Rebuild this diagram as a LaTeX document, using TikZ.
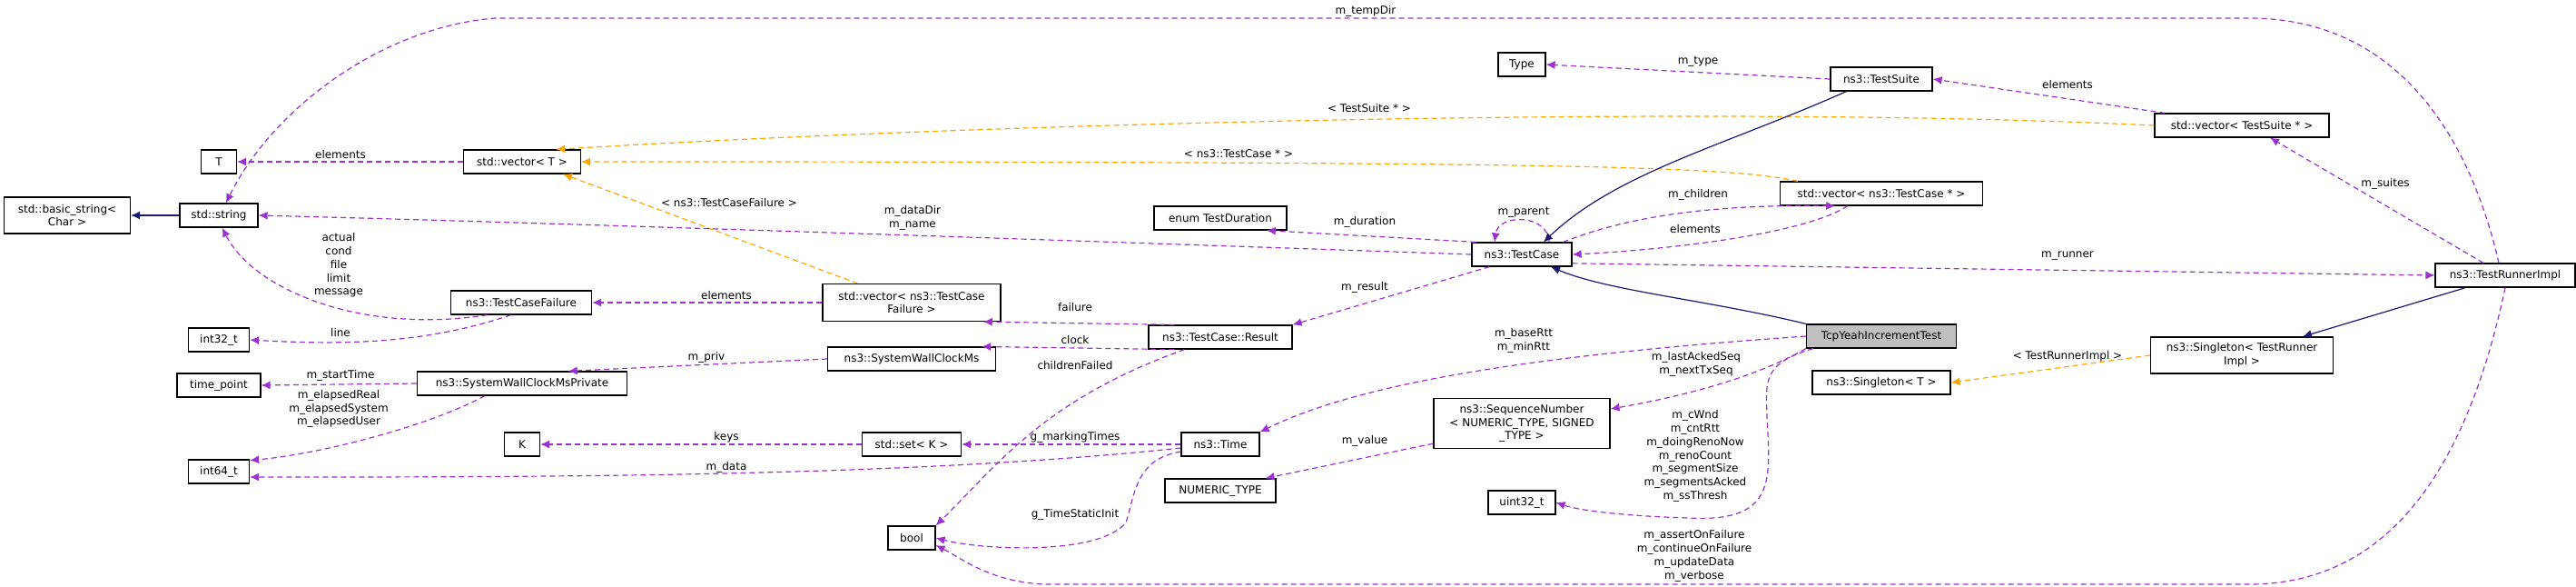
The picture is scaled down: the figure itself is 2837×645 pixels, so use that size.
\documentclass[tikz,border=0pt]{standalone}
\usepackage{fontspec}
\setmainfont{DejaVu Sans}
\usetikzlibrary{arrows.meta,calc}
\definecolor{ep}{HTML}{9A32CD}
\definecolor{eo}{HTML}{FFA500}
\definecolor{en}{HTML}{191970}
\begin{document}
\begin{tikzpicture}[x=0.5pt,y=-0.5pt,
  every node/.style={font=\fontsize{6}{7.4}\selectfont},
  box/.style={draw=black,line width=0.6pt,fill=white,inner sep=1pt,minimum height=13pt,align=center},
  lab/.style={inner sep=0pt,align=center},
  mem/.style={draw=ep,line width=0.6pt,dash pattern=on 3pt off 2pt,-{Latex[length=5pt,width=4.5pt]}},
  tpl/.style={draw=eo,line width=0.6pt,dash pattern=on 3pt off 2pt,-{Latex[length=5pt,width=4.5pt]}},
  inh/.style={draw=en,line width=0.6pt,-{Latex[length=5pt,width=4.5pt]}}]
\useasboundingbox (0,0) rectangle (2837,645);
% nodes
\node[box,minimum width=69.5pt,minimum height=20pt] (bstr) at (74,237) {std::basic\_string<\\Char >};
\node[box,minimum width=43pt] (str) at (241,237) {std::string};
\node[box,minimum width=19.5pt] (T) at (241,178) {T};
\node[box,minimum width=64.5pt] (vT) at (575,178) {std::vector< T >};
\node[box,minimum width=77.5pt] (tcf) at (574,333) {ns3::TestCaseFailure};
\node[box,minimum width=33.5pt] (i32) at (241,374) {int32\_t};
\node[box,minimum width=46pt] (tp) at (241,424) {time\_point};
\node[box,minimum width=115.5pt] (swp) at (575,422) {ns3::SystemWallClockMsPrivate};
\node[box,minimum width=19.5pt] (K) at (575,489) {K};
\node[box,minimum width=33.5pt] (i64) at (241,519) {int64\_t};
\node[box,minimum width=26pt] (type) at (1676,71) {Type};
\node[box,minimum width=73pt] (enum) at (1344,240) {enum TestDuration};
\node[box,minimum width=55pt] (tc) at (1676,280) {ns3::TestCase};
\node[box,minimum width=98pt,minimum height=20.5pt] (vtcf) at (1004,333) {std::vector< ns3::TestCase\\Failure >};
\node[box,minimum width=79pt] (res) at (1344,371) {ns3::TestCase::Result};
\node[box,minimum width=92.5pt] (swc) at (1004,395) {ns3::SystemWallClockMs};
\node[box,minimum width=97pt,minimum height=27.5pt] (sn) at (1676,466) {ns3::SequenceNumber\\< NUMERIC\_TYPE, SIGNED\\\_TYPE >};
\node[box,minimum width=54.5pt] (set) at (1004,489) {std::set< K >};
\node[box,minimum width=43pt] (time) at (1344,489) {ns3::Time};
\node[box,minimum width=61pt] (num) at (1344,540) {NUMERIC\_TYPE};
\node[box,minimum width=37pt] (u32) at (1676,553) {uint32\_t};
\node[box,minimum width=26pt] (bool) at (1004,592) {bool};
\node[box,minimum width=56pt] (ts) at (2072,87) {ns3::TestSuite};
\node[box,minimum width=96pt] (vts) at (2469,138) {std::vector< TestSuite * >};
\node[box,minimum width=111.5pt] (vtc) at (2072,213) {std::vector< ns3::TestCase * >};
\node[box,minimum width=77pt] (tri) at (2759,303) {ns3::TestRunnerImpl};
\node[box,minimum width=82.5pt,fill={rgb,255:red,191;green,191;blue,191}] (ty) at (2072,370) {TcpYeahIncrementTest};
\node[box,minimum width=100.5pt,minimum height=20pt] (stri) at (2469,391) {ns3::Singleton< TestRunner\\Impl >};
\node[box,minimum width=76pt] (st) at (2072,421) {ns3::Singleton< T >};
% edges
\draw[inh] (str) -- (bstr);
\draw[mem] (vT) -- (T);
\draw[mem] (tcf.200) .. controls (400,368) and (280,320) .. (str.285);
\draw[mem] (tcf.230) .. controls (470,378) and (380,380) .. (i32.east);
\draw[mem] (vtcf.west |- tcf.east) -- (tcf.east);
\draw[tpl] ($(vtcf.north west)+(39,0)$) -- ($(vT.south east)+(-20,0)$);
\draw[tpl] (vts.west) .. controls (1900,115) and (1100,135) .. (vT.20);
\draw[tpl] ($(vtc.north west)+(20,0)$) .. controls (1900,182) and (1700,178) .. (vT.east);
\draw[mem] (tc.west) .. controls (1100,262) and (600,245) .. (str.east);
\draw[mem] ($(tri.north)+(-7,0)$) .. controls (2720,150) and (2640,20) .. (2477,20) -- (545,20) .. controls (420,30) and (300,120) .. (str.60);
\draw[mem] (swp.west) -- (tp.east);
\draw[mem] ($(swp.south west)+(75,0)$) .. controls (470,470) and (350,500) .. (i64.20);
\draw[mem] (swc.west) -- (swp.15);
\draw[mem] (set.west) -- (K.east);
\draw[mem] ($(time.west)+(0,4)$) .. controls (1000,525) and (600,525) .. (i64.-10);
\draw[mem] (time.west) -- (set.east);
\draw[mem] ($(time.west)+(0,8)$) .. controls (1250,505) and (1250,545) .. (1240,575) .. controls (1210,612) and (1080,605) .. (bool.east);
\draw[mem] ($(res.south west)+(40,0)$) .. controls (1150,440) and (1100,510) .. (bool.north east);
\draw[mem] (res.165) -- (vtcf.-15);
\draw[mem] (res.195) -- (swc.10);
\draw[mem] ($(tc.south west)+(20,0)$) -- (res.north east);
\draw[mem] (tc.165) -- (enum.-15);
\draw[mem] ($(tc.north)+(30,0)$) .. controls (1705,235) and (1650,235) .. ($(tc.north)+(-30,0)$);
\draw[mem] ($(tc.north east)+(-10,0)$) .. controls (1800,235) and (1900,225) .. (vtc.-165);
\draw[mem] ($(vtc.south west)+(75,0)$) .. controls (1980,262) and (1800,277) .. (tc.east);
\draw[mem] (tc.-10) -- (tri.west);
\draw[inh] ($(ts.south west)+(18,0)$) .. controls (1900,160) and (1780,190) .. ($(tc.north)+(24,0)$);
\draw[inh] (ty.north west) .. controls (1880,330) and (1770,320) .. ($(tc.south)+(32,0)$);
\draw[mem] (ts.west) -- (type.east);
\draw[mem] ($(vts.north west)+(12,0)$) -- (ts.east);
\draw[mem] ($(tri.north)+(-24,0)$) -- ($(vts.south)+(31,0)$);
\draw[inh] ($(tri.south west)+(34,0)$) -- ($(stri.north)+(67,0)$);
\draw[tpl] (stri.west) -- (st.east);
\draw[mem] (ty.west) .. controls (1700,390) and (1500,420) .. (time.north east);
\draw[mem] (ty.south west) .. controls (1960,400) and (1900,428) .. ($(sn.east)+(0,-16)$);
\draw[mem] ($(sn.south west)+(0,-6)$) -- ($(num.north east)+(-12,0)$);
\draw[mem] ($(ty.south west)+(8,0)$) .. controls (1940,400) and (1945,420) .. (1946,460) .. controls (1950,530) and (1955,575) .. (1860,570) .. controls (1790,568) and (1740,562) .. (u32.east);
\draw[mem] (tri.south) .. controls (2720,500) and (2640,643) .. (2477,643) -- (1150,643) .. controls (1090,640) and (1060,615) .. ($(bool.east)+(0,8)$);
% labels
\node[lab] (l1) at (375,170) {elements};
\node[lab] (l2) at (803,223) {< ns3::TestCaseFailure >};
\node[lab] (l3) at (373,292) {actual\\cond\\file\\limit\\message};
\node[lab] (l4) at (800,325) {elements};
\node[lab] (l5) at (375,366) {line};
\node[lab] (l6) at (778,393) {m\_priv};
\node[lab] (l7) at (375,413) {m\_startTime};
\node[lab] (l8) at (373,450) {m\_elapsedReal\\m\_elapsedSystem\\m\_elapsedUser};
\node[lab] (l9) at (800,481) {keys};
\node[lab] (l10) at (800,514) {m\_data};
\node[lab] (l11) at (1504,12) {m\_tempDir};
\node[lab] (l12) at (1870,68) {m\_type};
\node[lab] (l13) at (1508,119) {< TestSuite * >};
\node[lab] (l14) at (1364,169) {< ns3::TestCase * >};
\node[lab] (l15) at (1005,240) {m\_dataDir\\m\_name};
\node[lab] (l16) at (1503,244) {m\_duration};
\node[lab] (l17) at (1678,234) {m\_parent};
\node[lab] (l18) at (1184,338) {failure};
\node[lab] (l19) at (1503,316) {m\_result};
\node[lab] (l20) at (1184,374) {clock};
\node[lab] (l21) at (1184,402) {childrenFailed};
\node[lab] (l22) at (1678,375) {m\_baseRtt\\m\_minRtt};
\node[lab] (l23) at (1184,481) {g\_markingTimes};
\node[lab] (l24) at (1503,485) {m\_value};
\node[lab] (l25) at (1184,566) {g\_TimeStaticInit};
\node[lab] (l26) at (1868,401) {m\_lastAckedSeq\\m\_nextTxSeq};
\node[lab] (l27) at (1867,502) {m\_cWnd\\m\_cntRtt\\m\_doingRenoNow\\m\_renoCount\\m\_segmentSize\\m\_segmentsAcked\\m\_ssThresh};
\node[lab] (l28) at (1866,612) {m\_assertOnFailure\\m\_continueOnFailure\\m\_updateData\\m\_verbose};
\node[lab] (l29) at (2277,93) {elements};
\node[lab] (l30) at (1870,214) {m\_children};
\node[lab] (l31) at (1867,252) {elements};
\node[lab] (l32) at (2627,202) {m\_suites};
\node[lab] (l33) at (2277,282) {m\_runner};
\node[lab] (l34) at (2277,392) {< TestRunnerImpl >};
\end{tikzpicture}
\end{document}
